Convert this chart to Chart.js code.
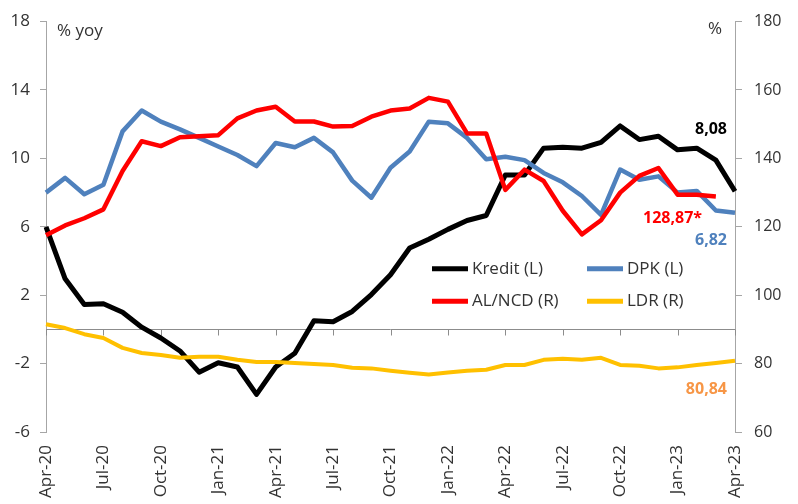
<!DOCTYPE html>
<html>
<head>
<meta charset="utf-8">
<script src="https://cdn.jsdelivr.net/npm/chart.js@4"></script>
<style>
html,body{margin:0;padding:0;background:#fff;}
#wrap{width:798px;height:504px;}
</style>
</head>
<body>
<div id="wrap"><canvas id="c" width="798" height="504"></canvas></div>
<script>
const months = ["Apr-20","May-20","Jun-20","Jul-20","Aug-20","Sep-20","Oct-20","Nov-20","Dec-20",
  "Jan-21","Feb-21","Mar-21","Apr-21","May-21","Jun-21","Jul-21","Aug-21","Sep-21","Oct-21","Nov-21","Dec-21",
  "Jan-22","Feb-22","Mar-22","Apr-22","May-22","Jun-22","Jul-22","Aug-22","Sep-22","Oct-22","Nov-22","Dec-22",
  "Jan-23","Feb-23","Mar-23","Apr-23"];
const kredit = [6.0, 2.96, 1.46, 1.5, 1.0, 0.13, -0.5, -1.26, -2.5, -1.95, -2.2, -3.8, -2.2, -1.4, 0.5, 0.45,
  1.05, 2.04, 3.2, 4.76, 5.27, 5.85, 6.37, 6.66, 9.03, 9.03, 10.6, 10.65, 10.6, 10.94, 11.9, 11.1, 11.3,
  10.5, 10.6, 9.9, 8.08];
const dpk = [8.0, 8.86, 7.9, 8.46, 11.58, 12.8, 12.15, 11.7, 11.2, 10.7, 10.2, 9.55, 10.9, 10.65, 11.2, 10.35,
  8.7, 7.7, 9.45, 10.4, 12.15, 12.05, 11.2, 9.95, 10.1, 9.9, 9.15, 8.6, 7.8, 6.7, 9.35, 8.75, 8.95,
  8.0, 8.1, 6.95, 6.82];
const alNcd = [117.5, 120.4, 122.5, 125.1, 136.3, 145.0, 143.6, 146.2, 146.5, 146.8, 151.7, 154.0, 155.1, 150.8,
  150.8, 149.3, 149.5, 152.2, 154.0, 154.6, 157.7, 156.6, 147.3, 147.3, 130.8, 136.7, 133.4, 124.7, 117.8,
  121.9, 130.0, 134.9, 137.2, 129.4, 129.4, 128.87, null];
const ldr = [91.5, 90.4, 88.6, 87.5, 84.6, 83.1, 82.5, 81.7, 82.0, 82.0, 81.1, 80.5, 80.5, 80.2, 79.9, 79.6,
  78.8, 78.6, 77.9, 77.3, 76.8, 77.4, 77.9, 78.2, 79.6, 79.6, 81.1, 81.4, 81.1, 81.7, 79.6, 79.4, 78.6,
  78.9, 79.6, 80.2, 80.84];
const leftTicks = [-6, -2, 2, 6, 10, 14, 18];
const rightTicks = [60, 80, 100, 120, 140, 160, 180];
const seriesNames = ["Kredit (L)", "DPK (L)", "AL/NCD (R)", "LDR (R)"];
const seriesColors = ["#000000", "#4F81BD", "#FF0000", "#FFC000"];
const endLabels = ["8,08", "6,82", "128,87*", "80,84"];

const FONT = "'Open Sans', 'Noto Sans', sans-serif";
const TXT = "#333333";
const AXIS = "#A6A6A6";

const extras = {
  id: 'extras',
  beforeDatasetsDraw(chart) {
    const ctx = chart.ctx, a = chart.chartArea;
    const x = chart.scales.x, y = chart.scales.y;
    const y0 = Math.round(y.getPixelForValue(0)) + 0.5;
    ctx.save();
    ctx.strokeStyle = "#8C8C8C";
    ctx.lineWidth = 1;
    ctx.beginPath();
    ctx.moveTo(a.left, y0); ctx.lineTo(a.right, y0);
    for (let i = 0; i < months.length; i += 3) {
      const px = Math.round(x.getPixelForValue(i)) + 0.5;
      ctx.moveTo(px, y0); ctx.lineTo(px, y0 + 6);
    }
    ctx.stroke();
    ctx.restore();
  },
  afterDatasetsDraw(chart) {
    const ctx = chart.ctx, a = chart.chartArea;
    const x = chart.scales.x, y = chart.scales.y, y2 = chart.scales.y2;
    ctx.save();
    ctx.textBaseline = 'middle';
    ctx.font = "17px " + FONT;
    ctx.fillStyle = TXT;
    ctx.textAlign = 'left';
    ctx.fillText("% yoy", a.left + 11, a.top + 10);
    ctx.textAlign = 'right';
    ctx.fillText("%", a.right - 13, a.top + 8);

    // end value labels
    const xr = x.getPixelForValue(months.length - 1) - 8;
    ctx.font = "bold 16px " + FONT;
    ctx.textAlign = 'right';
    ctx.fillStyle = "#000000";
    ctx.fillText(endLabels[0], xr, y.getPixelForValue(11.7));
    ctx.fillStyle = "#4F81BD";
    ctx.fillText(endLabels[1], xr, y.getPixelForValue(5.2));
    ctx.fillStyle = "#FF0000";
    ctx.fillText(endLabels[2], xr - 25, y2.getPixelForValue(122.3));
    ctx.fillStyle = "#F79646";
    ctx.fillText(endLabels[3], xr, y2.getPixelForValue(72.4));

    // legend
    ctx.font = "17px " + FONT;
    ctx.textAlign = 'left';
    const colX = [432, 587], rowY = [y.getPixelForValue(3.55), y.getPixelForValue(1.65)];
    for (let i = 0; i < 4; i++) {
      const cx = colX[i % 2], cy = rowY[Math.floor(i / 2)];
      ctx.strokeStyle = seriesColors[i];
      ctx.lineWidth = 5;
      ctx.beginPath(); ctx.moveTo(cx, cy); ctx.lineTo(cx + 36, cy); ctx.stroke();
      ctx.fillStyle = TXT;
      ctx.fillText(seriesNames[i], cx + 40, cy);
    }
    ctx.restore();
  }
};

function ds(label, data, color, width, axis, order) {
  return { label, data, borderColor: color, backgroundColor: color, borderWidth: width, yAxisID: axis,
    pointRadius: 0, tension: 0, fill: false, order, borderJoinStyle: 'round', spanGaps: false };
}

new Chart(document.getElementById('c'), {
  type: 'line',
  data: {
    labels: months,
    datasets: [
      ds(seriesNames[0], kredit, seriesColors[0], 5, 'y', 4),
      ds(seriesNames[1], dpk, seriesColors[1], 4.5, 'y', 3),
      ds(seriesNames[2], alNcd, seriesColors[2], 4.5, 'y2', 2),
      ds(seriesNames[3], ldr, seriesColors[3], 4, 'y2', 1)
    ]
  },
  options: {
    responsive: false,
    animation: false,
    devicePixelRatio: 1,
    layout: { padding: { top: 17, left: 0, right: 0, bottom: 0 } },
    plugins: { legend: { display: false }, tooltip: { enabled: false } },
    scales: {
      x: {
        type: 'category', offset: false,
        grid: { display: false, drawTicks: false },
        border: { display: false },
        ticks: {
          autoSkip: false, maxRotation: 90, minRotation: 90, padding: 13,
          color: TXT, font: { family: FONT, size: 17 },
          callback: (v, i) => (i % 3 === 0 ? months[i] : '')
        },
        afterFit: s => { s.height = 72; }
      },
      y: {
        position: 'left', min: -6, max: 18,
        afterBuildTicks: s => { s.ticks = leftTicks.map(v => ({ value: v })); },
        grid: { drawOnChartArea: false, drawTicks: true, tickLength: 6, color: AXIS },
        border: { display: true, color: AXIS, width: 1 },
        ticks: { padding: 10, color: TXT, font: { family: FONT, size: 17 } },
        afterFit: s => { s.width = 46; }
      },
      y2: {
        position: 'right', min: 60, max: 180,
        afterBuildTicks: s => { s.ticks = rightTicks.map(v => ({ value: v })); },
        grid: { drawOnChartArea: false, drawTicks: true, tickLength: 7, color: AXIS },
        border: { display: true, color: AXIS, width: 1 },
        ticks: { padding: 12, color: TXT, font: { family: FONT, size: 16 } },
        afterFit: s => { s.width = 63; }
      }
    }
  },
  plugins: [extras]
});
</script>
</body>
</html>
